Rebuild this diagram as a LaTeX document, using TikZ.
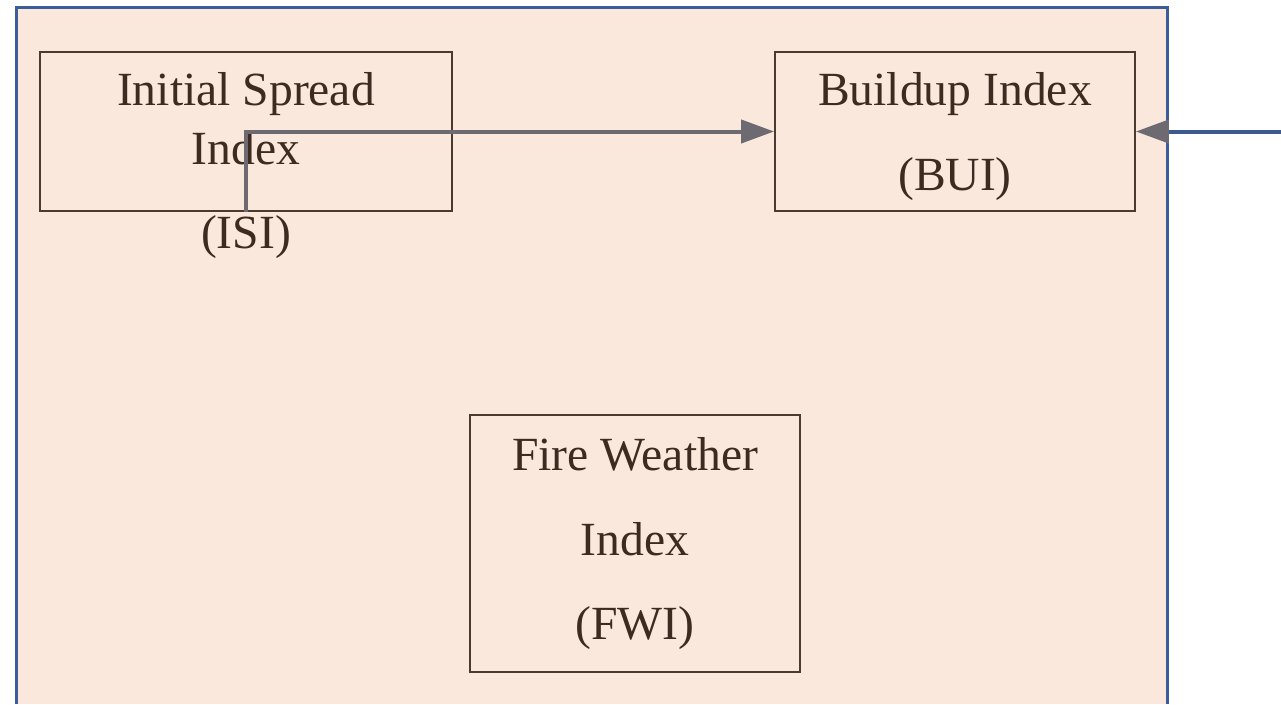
\documentclass[tikz,border=0pt]{standalone}
\usepackage{fontspec}
\setmainfont{Liberation Serif}
\usetikzlibrary{arrows.meta}
\definecolor{panelfill}{HTML}{FBE8DD}
\definecolor{panelline}{HTML}{3B5E9A}
\definecolor{boxline}{HTML}{4A3A30}
\definecolor{inktext}{HTML}{3D2B22}
\definecolor{flowgray}{HTML}{6D6A72}
\definecolor{feedblue}{HTML}{3B5A8E}
\tikzset{
  indexbox/.style={draw=boxline, line width=1.8pt, rectangle, inner sep=0pt},
  lbl/.style={anchor=base, inner sep=0pt, text=inktext,
    font=\fontsize{47.6}{57}\selectfont},
  flow/.style={draw=flowgray, line width=4pt,
    -{Triangle[length=33pt,width=23pt]}},
  feed/.style={draw=feedblue, line width=4pt},
}
\begin{document}
\begin{tikzpicture}[x=1pt,y=-1pt]
\useasboundingbox (0,0) rectangle (1281,704);
% component panel (open at the bottom edge)
\fill[panelfill] (16,7) rectangle (1167,704);
\draw[panelline, line width=3pt] (16,704) -- (16,7) -- (1167,7) -- (1167,704);

% index boxes
\node[indexbox, minimum width=412pt, minimum height=159pt] (isi) at (246,131.5) {};
\node[indexbox, minimum width=360pt, minimum height=159pt] (bui) at (955,131.5) {};
\node[indexbox, minimum width=330pt, minimum height=257pt] (fwi) at (635,543.5) {};

% labels
\node[lbl] (isi1) at (246,105) {Initial Spread};
\node[lbl] (isi2) at (246,164) {Index};
\node[lbl] (isi3) at (246,248.5) {(ISI)};
\node[lbl] (bui1) at (955,105.5) {Buildup Index};
\node[lbl] (bui2) at (955,190) {(BUI)};
\node[lbl] (fwi1) at (635,470) {Fire Weather};
\node[lbl] (fwi2) at (635,555) {Index};
\node[lbl] (fwi3) at (635,639) {(FWI)};

% connectors
\draw[flow] (isi.south) |- (bui.west);
\coordinate (ext) at (1281,131.5);
\coordinate (edge) at (1167,131.5);
\draw[feed] (ext) -- (edge);
\draw[flow] (edge) -- (bui.east);
\end{tikzpicture}
\end{document}
